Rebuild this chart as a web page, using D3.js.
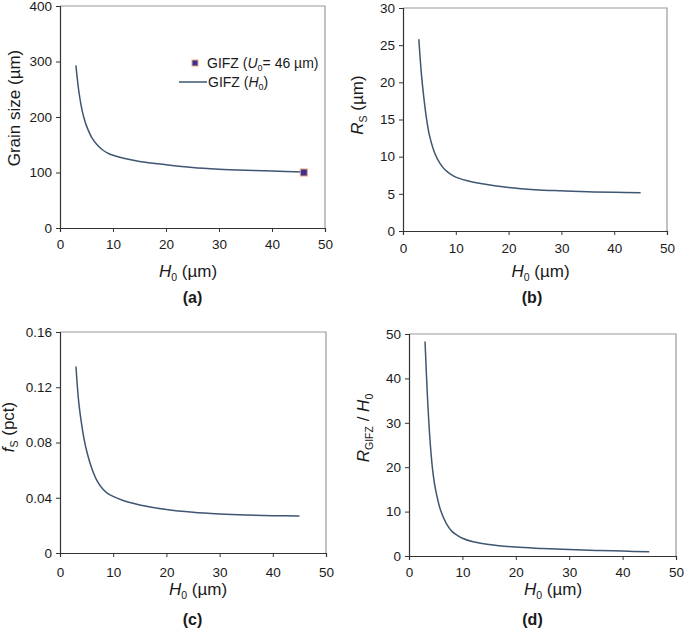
<!DOCTYPE html>
<html><head><meta charset="utf-8">
<script src="https://cdn.jsdelivr.net/npm/d3@7/dist/d3.min.js"></script>
<style>body{margin:0;background:#fff}svg{display:block;font-family:"Liberation Sans",Arial,sans-serif}</style>
</head><body><svg id="c" width="685" height="628"></svg>
<script>
// ---- data ----
const H0 = [3, 3.5, 4, 4.5, 5, 6, 7, 8, 9, 10, 12, 15, 20, 25, 30, 35, 40, 45];
const H0a = [3, 3.5, 4, 4.5, 5, 6, 7, 8, 9, 10, 12, 15, 20, 25, 30, 35, 40, 46];
const grainSize = [293, 250, 220, 199, 184, 163, 150, 141, 135, 131, 125.5, 120, 114, 109, 106, 104, 102.5, 101];
const Rs = [25.8, 21.0, 17.6, 14.9, 12.9, 10.5, 9.1, 8.2, 7.65, 7.25, 6.8, 6.35, 5.85, 5.55, 5.4, 5.28, 5.2, 5.15];
const fs = [0.135, 0.110, 0.095, 0.083, 0.074, 0.061, 0.052, 0.0465, 0.043, 0.041, 0.0378, 0.0348, 0.0315, 0.0295, 0.0283, 0.0275, 0.027, 0.0268];
const ratio = [48.3, 34.8, 25.0, 18.6, 14.8, 10.0, 7.3, 5.6, 4.7, 4.0, 3.2, 2.6, 2.0, 1.7, 1.45, 1.25, 1.1, 0.95];
const pointU0 = {x: 46, y: 100};
const xTicks = [0, 10, 20, 30, 40, 50];
const yTicksA = [0, 100, 200, 300, 400];
const yTicksB = [0, 5, 10, 15, 20, 25, 30];
const yTicksC = [0, 0.04, 0.08, 0.12, 0.16];
const yTicksD = [0, 10, 20, 30, 40, 50];

const svg = d3.select("#c");
const lineColor = "#3e5672";

function panel(o) {
  const x = d3.scaleLinear().domain([0, 50]).range([o.l, o.r]);
  const y = d3.scaleLinear().domain(o.yd).range([o.b, o.t]);
  const g = svg.append("g");
  g.append("path").attr("d", `M${o.l},${o.t}H${o.r}V${o.b}`).attr("fill", "none").attr("stroke", "#999").attr("stroke-width", 1.2);
  const ax = g.append("g").attr("transform", `translate(0,${o.b})`)
    .call(d3.axisBottom(x).tickValues(xTicks).tickSize(4).tickPadding(o.xpad).tickFormat(d3.format("d")));
  const ay = g.append("g").attr("transform", `translate(${o.l},0)`)
    .call(d3.axisLeft(y).tickValues(o.yt).tickSize(4).tickPadding(4).tickFormat(o.fmt));
  [ax, ay].forEach(a => {
    a.select(".domain").attr("stroke", "#333").attr("stroke-width", 1.2);
    a.selectAll(".tick line").attr("stroke", "#333");
    a.selectAll("text").attr("font-size", 13.5).attr("fill", "#1a1a1a").attr("font-family", '"Liberation Sans",Arial,sans-serif');
  });
  const line = d3.line().x((d, i) => x(o.xs[i])).y(d => y(d)).curve(d3.curveCatmullRom.alpha(0.5));
  g.append("path").datum(o.ys).attr("d", line).attr("fill", "none").attr("stroke", lineColor).attr("stroke-width", 1.5);
  const xt = g.append("text").attr("x", o.xtx).attr("y", o.xty).attr("text-anchor", "middle").attr("font-size", 17).attr("fill", "#1a1a1a");
  xt.append("tspan").attr("font-style", "italic").text("H");
  xt.append("tspan").attr("font-size", 10.5).attr("dy", 4).text("0");
  xt.append("tspan").attr("dy", -4).text(" (µm)");
  const yt = g.append("text").attr("transform", `translate(${o.ytx},${o.yty}) rotate(-90)`).attr("text-anchor", "middle").attr("font-size", 17).attr("fill", "#1a1a1a");
  o.ytitle(yt);
  g.append("text").attr("x", o.lx).attr("y", o.ly).attr("text-anchor", "middle").attr("font-size", 16).attr("font-weight", "bold").attr("fill", "#1a1a1a").text(o.label);
  return {x, y, g};
}

const A = panel({l: 60, r: 325, t: 6, b: 228, yd: [0, 400], yt: yTicksA, fmt: d3.format("d"), xs: H0a, ys: grainSize, xpad: 7,
  xtx: 188, xty: 277, ytx: 20, yty: 108, lx: 192.5, ly: 303, label: "(a)",
  ytitle: t => t.text("Grain size (µm)")});
A.g.append("rect").attr("x", A.x(pointU0.x) - 3.5).attr("y", A.y(pointU0.y) - 3.5).attr("width", 7).attr("height", 7)
  .attr("fill", "#3b3094").attr("stroke", "#eba478").attr("stroke-width", 1);
const lg = A.g.append("g");
lg.append("rect").attr("x", 192).attr("y", 60).attr("width", 6).attr("height", 6).attr("fill", "#3b3094").attr("stroke", "#eba478").attr("stroke-width", 1);
const l1 = lg.append("text").attr("x", 207).attr("y", 68).attr("font-size", 14).attr("fill", "#1a1a1a");
l1.append("tspan").text("GIFZ (");
l1.append("tspan").attr("font-style", "italic").text("U");
l1.append("tspan").attr("font-size", 9).attr("dy", 3).text("0");
l1.append("tspan").attr("dy", -3).text("= 46 µm)");
lg.append("line").attr("x1", 179).attr("x2", 207).attr("y1", 82).attr("y2", 82).attr("stroke", lineColor).attr("stroke-width", 1.5);
const l2 = lg.append("text").attr("x", 208).attr("y", 87).attr("font-size", 14).attr("fill", "#1a1a1a");
l2.append("tspan").text("GIFZ (");
l2.append("tspan").attr("font-style", "italic").text("H");
l2.append("tspan").attr("font-size", 9).attr("dy", 3).text("0");
l2.append("tspan").attr("dy", -3).text(")");

panel({l: 403, r: 667, t: 8, b: 231, yd: [0, 30], yt: yTicksB, fmt: d3.format("d"), xs: H0, ys: Rs, xpad: 8,
  xtx: 540.5, xty: 277, ytx: 363, yty: 105, lx: 532, ly: 303, label: "(b)",
  ytitle: t => { t.append("tspan").attr("font-style", "italic").text("R");
    t.append("tspan").attr("font-size", 10.5).attr("dy", 4).text("S");
    t.append("tspan").attr("dy", -4).text(" (µm)"); }});

panel({l: 60, r: 326, t: 332, b: 553, yd: [0, 0.16], yt: yTicksC, fmt: d => d === 0 ? "0" : d3.format(".2f")(d), xs: H0, ys: fs, xpad: 10,
  xtx: 198, xty: 595, ytx: 14, yty: 427, lx: 192.5, ly: 625, label: "(c)",
  ytitle: t => { t.append("tspan").attr("font-style", "italic").text("f");
    t.append("tspan").attr("font-size", 10.5).attr("dy", 4).text("S");
    t.append("tspan").attr("dy", -4).text(" (pct)"); }});

panel({l: 409, r: 676, t: 334, b: 556, yd: [0, 50], yt: yTicksD, fmt: d3.format("d"), xs: H0, ys: ratio, xpad: 7,
  xtx: 553, xty: 595, ytx: 369, yty: 428, lx: 532.5, ly: 625, label: "(d)",
  ytitle: t => { t.append("tspan").attr("font-style", "italic").text("R");
    t.append("tspan").attr("font-size", 10.5).attr("dy", 4).text("GIFZ");
    t.append("tspan").attr("dy", -4).text(" / ");
    t.append("tspan").attr("font-style", "italic").text("H");
    t.append("tspan").attr("font-size", 10.5).attr("dy", 4).text("0"); }});
</script></body></html>
